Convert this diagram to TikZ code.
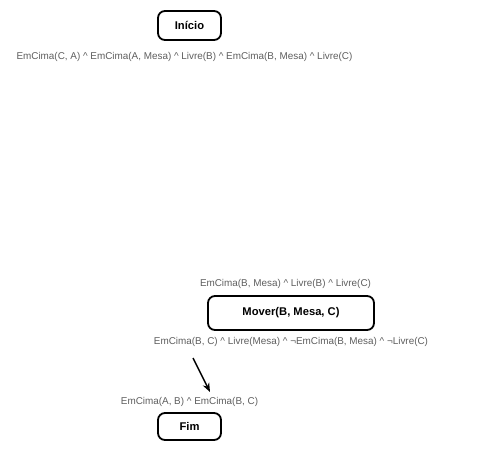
\documentclass[tikz,border=0pt]{standalone}
\usepackage{fontspec}
\setmainfont{Liberation Sans}
\usetikzlibrary{arrows.meta}
\definecolor{condgray}{HTML}{5E5E5E}
\tikzset{
  stepbox/.style={draw=black, line width=1.8pt, rounded corners=7pt,
    font=\fontsize{11.2}{13}\selectfont\bfseries, inner sep=0pt, anchor=center},
  cond/.style={text=condgray, font=\fontsize{9.9}{12}\selectfont, inner sep=0pt, anchor=center},
  link/.style={draw=black, line width=1.5pt, -{Stealth[length=9pt,width=7pt]}}
}
\newcommand{\conj}{ \textasciicircum{} }
\begin{document}
\begin{tikzpicture}[x=1pt,y=-1pt]
  \useasboundingbox (0,0) rectangle (489,450);
  % start state
  \node[stepbox, minimum width=63pt, minimum height=29pt] (inicio) at (189.5,25.5) {Início};
  \node[cond] (estado) at (184.5,57) {EmCima(C, A)\conj EmCima(A, Mesa)\conj Livre(B)\conj EmCima(B, Mesa)\conj Livre(C)};
  % action with preconditions and effects
  \node[cond] (pre) at (285.5,284) {EmCima(B, Mesa)\conj Livre(B)\conj Livre(C)};
  \node[stepbox, minimum width=166pt, minimum height=34pt] (mover) at (291,313) {Mover(B, Mesa, C)};
  \node[cond] (efeito) at (291,342) {EmCima(B, C)\conj Livre(Mesa)\conj ¬EmCima(B, Mesa)\conj ¬Livre(C)};
  % goal
  \node[cond] (meta) at (189.5,402) {EmCima(A, B)\conj EmCima(B, C)};
  \node[stepbox, minimum width=63pt, minimum height=27pt] (fim) at (189.5,426.5) {Fim};
  % causal link
  \coordinate (de) at (193,358);
  \coordinate (para) at (210,392);
  \draw[link] (de) -- (para);
\end{tikzpicture}
\end{document}
